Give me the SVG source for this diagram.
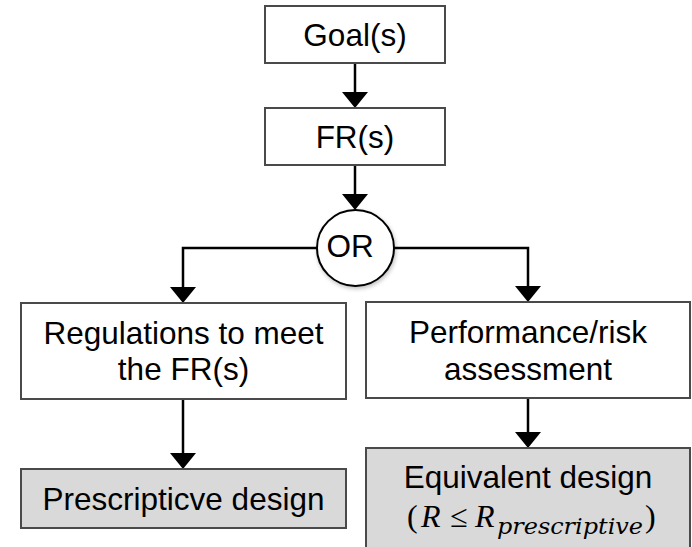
<svg xmlns="http://www.w3.org/2000/svg" width="692" height="547" viewBox="0 0 692 547">
  <style>
    .box { fill: #ffffff; stroke: #4a4a4a; stroke-width: 2; }
    .gray { fill: #d9d9d9; stroke: #4a4a4a; stroke-width: 2; }
    .lbl { font-family: "Liberation Sans", Arial, sans-serif; font-size: 31.5px; fill: #000000; text-anchor: middle; }
    .conn { fill: none; stroke: #000000; stroke-width: 2.5; }
    .math { font-family: "Liberation Serif", "Times New Roman", serif; font-size: 32px; fill: #000000; }
  </style>
  <defs>
    <marker id="arrow" viewBox="0 0 16 26" refX="8" refY="13" markerWidth="16" markerHeight="26" markerUnits="userSpaceOnUse" orient="auto">
      <path d="M0,0 L16,13 L0,26 Z" fill="#000000"/>
    </marker>
    <filter id="shadow" x="-30%" y="-30%" width="160%" height="160%">
      <feGaussianBlur in="SourceAlpha" stdDeviation="2"/>
      <feOffset dx="1" dy="2" result="b"/>
      <feComponentTransfer><feFuncA type="linear" slope="0.25"/></feComponentTransfer>
      <feMerge><feMergeNode/><feMergeNode in="SourceGraphic"/></feMerge>
    </filter>
  </defs>
  <rect width="692" height="547" fill="#ffffff"/>

  <g id="connectors">
    <line class="conn" x1="355" y1="63" x2="355" y2="100" marker-end="url(#arrow)"/>
    <line class="conn" x1="355" y1="165" x2="355" y2="202" marker-end="url(#arrow)"/>
    <polyline class="conn" points="317,248 183,248 183,295" marker-end="url(#arrow)"/>
    <polyline class="conn" points="394,248 528,248 528,294" marker-end="url(#arrow)"/>
    <line class="conn" x1="183" y1="399" x2="183" y2="461" marker-end="url(#arrow)"/>
    <line class="conn" x1="528" y1="398" x2="528" y2="440" marker-end="url(#arrow)"/>
  </g>

  <g id="goal">
    <rect class="box" x="265" y="6" width="180" height="57"/>
    <text class="lbl" x="355" y="46">Goal(s)</text>
  </g>

  <g id="fr">
    <rect class="box" x="265" y="108" width="180" height="57"/>
    <text class="lbl" x="355" y="148">FR(s)</text>
  </g>

  <g id="or">
    <ellipse cx="355.5" cy="248" rx="38.5" ry="38" fill="#ffffff" stroke="#000000" stroke-width="2" filter="url(#shadow)"/>
    <text class="lbl" x="350" y="257">OR</text>
  </g>

  <g id="regulations">
    <rect class="box" x="21" y="303" width="325" height="96"/>
    <text class="lbl" x="183.5" y="344">Regulations to meet</text>
    <text class="lbl" x="183.5" y="380">the FR(s)</text>
  </g>

  <g id="performance">
    <rect class="box" x="366" y="302" width="324" height="96"/>
    <text class="lbl" x="528" y="343">Performance/risk</text>
    <text class="lbl" x="528" y="380">assessment</text>
  </g>

  <g id="prescriptive">
    <rect class="gray" x="21" y="469" width="325" height="59"/>
    <text class="lbl" x="183.5" y="510">Prescripticve design</text>
  </g>

  <g id="equivalent">
    <rect class="gray" x="366" y="448" width="324" height="120"/>
    <text class="lbl" x="528" y="488">Equivalent design</text>
    <text class="math" x="407" y="527">(</text>
    <text class="math" x="421" y="527" font-style="italic">R</text>
    <text class="math" x="459" y="527" text-anchor="middle" font-size="34">≤</text>
    <text class="math" x="475" y="527" font-style="italic">R</text>
    <text x="497" y="534" font-family="'DejaVu Serif', serif" font-style="italic" font-size="23" textLength="146" lengthAdjust="spacingAndGlyphs">prescriptive</text>
    <text class="math" x="645" y="527">)</text>
  </g>
</svg>
